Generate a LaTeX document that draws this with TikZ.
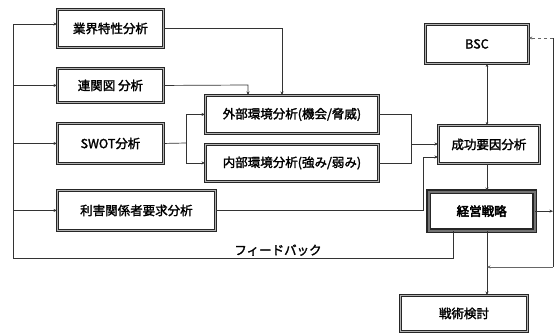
\documentclass[tikz,border=0pt]{standalone}
\usepackage{fontspec}
\setmainfont{Noto Sans CJK JP}
\newfontfamily\jp[FakeBold=1.8]{Noto Sans CJK JP}
\newfontfamily\jpb[FakeBold=3.5]{Noto Sans CJK JP}
\usetikzlibrary{arrows.meta,calc}
\begin{document}
\begin{tikzpicture}[x=1pt,y=-1pt,
  box/.style={draw=black!85, line width=0.9pt, double=black!30, double distance=1.6pt,
    fill=white, inner sep=0pt, anchor=north west, font=\jp\fontsize{12.5}{14}\selectfont},
  boxb/.style={box, line width=1.3pt, double=black!55, double distance=2pt, font=\jpb\fontsize{12.5}{14}\selectfont},
  conn/.style={draw=black!80, line width=0.7pt},
  arr/.style={conn, -{Stealth[length=3.5pt,width=3pt]}},
  lbl/.style={font=\jp\fontsize{12.5}{14}\selectfont, inner sep=1pt}
]
\path[use as bounding box] (0,0) rectangle (555,333);

% left column boxes
\node[box, minimum width=106pt, minimum height=38pt] (b1) at (57,9) {業界特性分析};
\node[box, minimum width=106pt, minimum height=34pt] (b2) at (57,68) {連関図 分析};
\node[box, minimum width=106pt, minimum height=40pt] (b3) at (57,123) {SWOT分析};
\node[box, minimum width=158pt, minimum height=40pt] (b4) at (57,190) {利害関係者要求分析};
% middle boxes
\node[box, minimum width=173pt, minimum height=38pt] (b5) at (205,95) {外部環境分析(機会/脅威)};
\node[box, minimum width=173pt, minimum height=37pt] (b6) at (205,144) {内部環境分析(強み/弱み)};
% right column
\node[box, minimum width=103pt, minimum height=39pt] (b8) at (425,24) {BSC};
\node[box, minimum width=101pt, minimum height=38pt] (b7) at (438,125) {成功要因分析};
\node[boxb, minimum width=106pt, minimum height=39pt] (b9) at (428,191) {経営戦略};
\node[box, minimum width=127pt, minimum height=36pt] (b10) at (400,295) {戦術検討};

% helper coordinates
\coordinate (L) at (13,258);
\coordinate (spine) at (487,0);
\coordinate (R) at (553,0);
\coordinate (fb) at (453,258);
\coordinate (j1) at (282,28);
\coordinate (j2) at (248,85);
\coordinate (sw) at (186,143);
\coordinate (mj) at (411,144);
\coordinate (sk) at (423,157);
\coordinate (rt) at (553,38);
\coordinate (rb) at (553,267);

% feedback loop
\draw[conn] (b9.south -| fb) -- (fb) -- (L) -- (L |- 0,24);
\draw[arr] (L |- 0,24) -- (b1.west |- 0,24);
\draw[arr] (L |- b2.west) -- (b2.west);
\draw[arr] (L |- b3.west) -- (b3.west);
\draw[arr] (L |- b4.west) -- (b4.west);
\node[lbl, anchor=south] (fbl) at (278,257) {フィードバック};

% to external analysis
\draw[arr] (b1.east |- j1) -- (j1) -- (j1 |- b5.north);
\draw[arr] (b2.east) -- (j2) -- (j2 |- b5.north);

% SWOT split
\draw[conn] (b3.east) -- (sw);
\draw[conn] (sw |- b5.west) -- (sw |- b6.west);
\draw[arr] (sw |- b5.west) -- (b5.west);
\draw[arr] (sw |- b6.west) -- (b6.west);

% merge into success factors
\draw[conn] (b5.east) -- (mj |- b5.east) -- (mj |- b6.east) -- (b6.east);
\draw[arr] (mj) -- (b7.west |- mj);
\draw[arr] (b4.east) -- (sk |- b4.east) -- (sk) -- (b7.west |- sk);

% spine
\draw[conn, {Stealth[length=3pt,width=2.6pt]}-{Stealth[length=3pt,width=2.6pt]}] (b8.south -| spine) -- (b7.north -| spine);
\draw[arr] (b7.south -| spine) -- (b9.north -| spine);
\draw[arr] (b9.south -| spine) -- (b10.north -| spine);

% right loop
\draw[arr] (b9.east) -- (R |- b9.east);
\draw[conn] (rt) -- (rb);
\draw[arr, dashed, draw=black!60] (rt) -- (b8.east |- rt);
\draw[arr, draw=black!60] (rb) -- (spine |- rb);
\end{tikzpicture}
\end{document}
